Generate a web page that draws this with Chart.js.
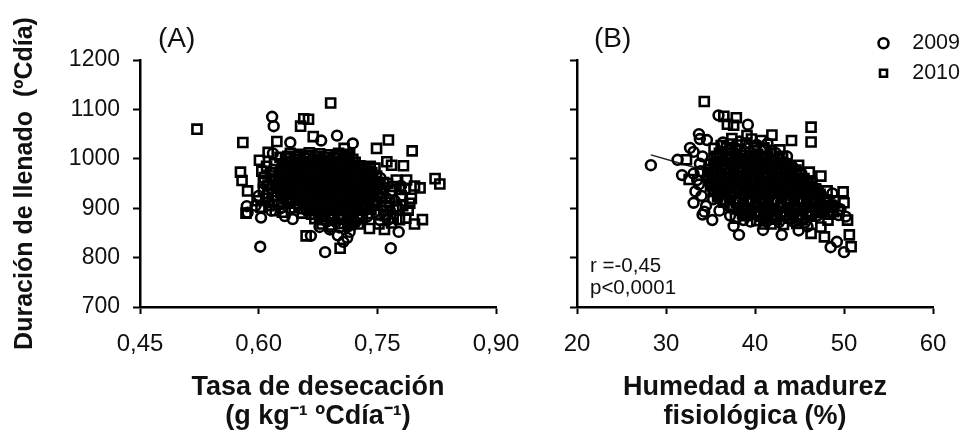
<!DOCTYPE html>
<html>
<head>
<meta charset="utf-8">
<script src="https://cdn.jsdelivr.net/npm/chart.js@4"></script>
<style>
  html, body { margin: 0; padding: 0; background: #fff; }
  #page { position: relative; width: 967px; height: 431px; overflow: hidden; font-family: "Liberation Sans", Arial, sans-serif; color: #111; }
  #wrapA { position: absolute; left: 0; top: 0; width: 520px; height: 431px; }
  #wrapB { position: absolute; left: 520px; top: 0; width: 447px; height: 431px; }
  .note { position: absolute; white-space: nowrap; }
</style>
</head>
<body>
<div id="page">
  <div id="wrapA"><canvas id="chartA"></canvas></div>
  <div id="wrapB"><canvas id="chartB"></canvas></div>
  <div class="note" style="left:158px;top:22px;font-size:28px;">(A)</div>
  <div class="note" style="left:594px;top:22px;font-size:28px;">(B)</div>
  <div class="note" style="left:590px;top:254px;font-size:20.5px;line-height:22px;">r =-0,45<br>p&lt;0,0001</div>
</div>
<script>
// panel A, tasa de desecacion vs duracion de llenado
const a2010 = [
  [.522,1060],[.580,1033],[.691,1113],[.657,1081],[.663,1080],[.653,1066],[.623,1035],[.577,973],[.579,956],[.586,935],
  [.584,890],[.601,997],[.612,1013],[.749,1021],[.764,1038],[.794,1016],[.783,986],[.768,987],[.762,994],[.747,981],
  [.823,960],[.829,949],[.804,941],[.797,945],[.793,920],[.789,896],[.807,877],[.797,868],[.778,877],[.759,857],
  [.740,859],[.660,844],[.703,819],[.708,1021],[.715,1008],[.669,1045],[.758,952],[.774,957],[.787,957],[.774,903],
  [.791,910],[.604,975],[.606,952],[.612,930],[.598,915],[.603,902],[.616,965],[.620,990],[.627,1003],[.754,930],
  [.768,935],[.780,925],[.761,905],[.752,888],[.770,880],[.748,912],
  [.610,985],[.615,972],[.607,962],[.621,958],[.612,947],[.618,940],[.606,938],[.622,945],[.609,920],[.617,915],
  [.625,908],[.613,905],[.621,895],[.630,892],[.757,942],[.763,950],[.771,944],[.778,938],[.785,940],[.756,920],
  [.765,912],[.775,898],[.782,905],[.758,895],[.768,870],[.752,868],[.760,885],[.786,880],
  [.640,1011],[.652,1009],[.664,1012],[.677,1010],[.689,1008],[.701,1011],[.713,1009],
  [.634,1000],[.646,998],[.659,1001],[.671,999],[.683,997],[.696,1000],[.708,998],[.719,999],
  [.630,989],[.643,987],[.655,990],[.667,988],[.680,986],[.692,989],[.704,988],[.716,987],[.728,986],[.741,985],
  [.629,978],[.641,976],[.653,977],[.666,979],[.678,975],[.690,978],[.703,977],[.715,976],[.727,978],[.739,975],
  [.626,967],[.638,965],[.651,968],[.663,966],[.675,964],[.688,967],[.700,965],[.712,966],[.724,964],[.737,967],[.749,965],
  [.625,956],[.637,954],[.649,957],[.662,955],[.674,953],[.686,956],[.699,954],[.711,955],[.723,953],[.735,956],[.748,954],
  [.626,945],[.638,943],[.650,946],[.663,944],[.675,942],[.687,945],[.699,943],[.712,944],[.724,942],[.736,945],[.749,943],
  [.628,934],[.640,932],[.652,935],[.665,933],[.677,931],[.689,934],[.701,932],[.714,933],[.726,931],[.738,934],[.750,932],
  [.631,923],[.643,921],[.655,924],[.668,922],[.680,920],[.692,923],[.704,921],[.717,922],[.729,920],[.741,923],
  [.636,912],[.648,910],[.660,913],[.672,911],[.684,909],[.697,912],[.709,910],[.721,911],[.733,909],[.745,912],
  [.645,901],[.657,899],[.669,902],[.681,900],[.693,898],[.706,901],[.718,899],[.730,900],[.742,898],
  [.655,890],[.667,888],[.679,891],[.691,889],[.703,887],[.716,890],[.728,888],[.738,889],
  [.671,879],[.683,877],[.695,880],[.707,878],[.719,876],[.731,879],
  [.680,868],[.692,866],[.704,869],[.716,867],[.726,868],
  // dense core
  [.637,1005],[.650,1004],[.662,1006],[.675,1004],[.687,1003],[.699,1006],[.711,1004],
  [.636,994],[.648,993],[.661,995],[.673,994],[.685,992],[.698,995],[.710,993],[.722,993],
  [.634,983],[.647,982],[.659,984],[.671,983],[.684,981],[.696,984],[.708,982],[.720,982],[.732,981],
  [.632,972],[.645,971],[.657,973],[.669,972],[.682,970],[.694,973],[.706,971],[.718,971],[.730,970],[.743,972],
  [.631,961],[.643,960],[.656,962],[.668,961],[.680,959],[.693,962],[.705,960],[.717,960],[.729,959],[.742,961],
  [.630,950],[.642,949],[.655,951],[.667,950],[.679,948],[.692,951],[.704,949],[.716,949],[.728,948],[.741,950],
  [.632,939],[.644,938],[.657,940],[.669,939],[.681,937],[.694,940],[.706,938],[.718,938],[.730,937],[.743,939],
  [.635,928],[.647,927],[.660,929],[.672,928],[.684,926],[.697,929],[.709,927],[.721,927],[.733,926],[.744,928],
  [.641,917],[.653,916],[.666,918],[.678,917],[.690,915],[.703,918],[.715,916],[.727,916],[.739,915],
  [.651,906],[.663,905],[.676,907],[.688,906],[.700,904],[.713,907],[.725,905],[.736,905],
  [.664,895],[.677,894],[.689,896],[.701,895],[.713,893],[.726,896],
  [.677,884],[.689,883],[.701,885],[.713,884],[.725,882]
];
const a2009 = [
  [.617,1085],[.619,1066],[.699,1047],[.719,1031],[.679,1037],[.640,1033],[.618,1011],[.585,904],[.586,891],[.603,881],
  [.616,895],[.633,884],[.643,878],[.602,822],[.666,844],[.684,811],[.767,819],[.777,852],[.707,832],[.715,852],
  [.690,857],[.677,862],[.764,877],[.753,876],[.637,910],[.612,912],[.600,925],[.596,905],[.622,925],[.628,900],
  [.610,945],[.618,978],[.712,840],[.700,845],[.766,895],[.780,945],[.772,915],[.762,920],
  [.646,1005],[.658,1004],[.671,1006],[.683,1003],[.695,1005],[.707,1004],
  [.640,994],[.652,993],[.665,995],[.677,992],[.689,994],[.702,993],[.714,995],
  [.636,983],[.649,982],[.661,984],[.673,981],[.686,983],[.698,982],[.710,984],[.722,981],[.735,983],
  [.633,972],[.645,971],[.658,973],[.670,970],[.682,972],[.695,971],[.707,973],[.719,970],[.731,972],[.744,971],
  [.631,961],[.643,960],[.656,962],[.668,959],[.680,961],[.693,960],[.705,962],[.717,959],[.729,961],[.742,960],[.754,961],
  [.630,950],[.642,949],[.655,951],[.667,948],[.679,950],[.692,949],[.704,951],[.716,948],[.728,950],[.741,949],[.753,950],
  [.632,939],[.644,938],[.657,940],[.669,937],[.681,939],[.694,938],[.706,940],[.718,937],[.730,939],[.743,938],[.755,939],
  [.634,928],[.646,927],[.659,929],[.671,926],[.683,928],[.696,927],[.708,929],[.720,926],[.732,928],[.745,927],
  [.638,917],[.650,916],[.663,918],[.675,915],[.687,917],[.700,916],[.712,918],[.724,915],[.736,917],[.748,916],
  [.650,906],[.662,905],[.675,907],[.687,904],[.699,906],[.712,905],[.724,907],[.736,904],[.746,906],
  [.661,895],[.673,894],[.686,896],[.698,893],[.710,895],[.723,894],[.735,896],
  [.677,884],[.689,883],[.702,885],[.714,882],[.726,884],[.737,883],
  [.686,873],[.698,872],[.711,874],[.722,871],
  [.690,862],[.702,861],[.713,863]
];

// panel B, humedad a madurez fisiologica vs duracion de llenado
const b2010 = [
  [34.3,1116],[36.5,1086],[37.9,1083],[36.9,1070],[37.6,1068],[46.3,1064],[46.3,1034],[44.1,1037],[41.9,1048],[40.7,1037],
  [39.1,1047],[37.4,1041],[32.3,998],[32.6,958],[43.1,1005],[44.9,987],[46.1,973],[47.4,965],[46.3,943],[48.1,935],
  [49.9,933],[50.0,911],[50.4,876],[50.6,846],[50.8,822],[47.8,842],[46.3,849],[47.4,862],[45.3,877],[48.2,876],
  [35.4,1021],[36.2,1027],[41.8,1017],[46.9,930],[45.5,960],[48.9,915],[47.6,900],[49.4,895],
  [36.8,1022],[38.0,1028],[39.0,1032],[38.4,1018],[39.9,1024],[41.0,1022],[40.0,1016],[42.8,1018],[37.4,1030],[39.6,1040],[37.2,1018],
  [37.8,880],[39.0,885],[40.2,875],[41.0,868],
  [36.0,1011],[37.4,1010],[38.9,1012],[40.3,1009],[41.7,1011],
  [35.4,1000],[36.9,999],[38.3,1001],[39.7,998],[41.2,1000],[42.6,999],
  [35.0,989],[36.4,988],[37.9,990],[39.3,987],[40.7,989],[42.2,988],[43.6,990],
  [34.8,978],[36.2,977],[37.7,979],[39.1,976],[40.5,978],[42.0,977],[43.4,979],[44.6,977],
  [34.7,967],[36.1,966],[37.6,968],[39.0,965],[40.4,967],[41.9,966],[43.3,968],[44.7,965],
  [34.8,956],[36.2,955],[37.7,957],[39.1,954],[40.5,956],[42.0,955],[43.4,957],[44.8,954],[45.9,955],
  [35.0,945],[36.4,944],[37.9,946],[39.3,943],[40.7,945],[42.2,944],[43.6,946],[45.0,943],[46.3,945],
  [35.3,934],[36.7,933],[38.2,935],[39.6,932],[41.0,934],[42.5,933],[43.9,935],[45.3,932],[46.7,934],
  [35.8,923],[37.2,922],[38.7,924],[40.1,921],[41.5,923],[43.0,922],[44.4,924],[45.8,921],[47.2,923],
  [36.5,912],[37.9,911],[39.4,913],[40.8,910],[42.2,912],[43.7,911],[45.1,913],[46.5,910],[47.9,912],
  [37.5,901],[38.9,900],[40.4,902],[41.8,899],[43.2,901],[44.7,900],[46.1,902],[47.5,899],[48.8,901],
  [38.6,890],[40.0,889],[41.5,891],[42.9,888],[44.3,890],[45.8,889],[47.2,891],[48.4,888],
  [41.0,879],[42.4,878],[43.9,880],[45.3,877],
  [41.8,868],[43.2,867],[44.7,869],
  // dense core
  [35.7,1005],[37.1,1004],[38.6,1006],[40.0,1003],[41.4,1005],
  [35.7,994],[37.2,993],[38.6,995],[40.0,992],[41.5,994],[42.9,993],
  [35.4,983],[36.8,982],[38.3,984],[39.7,981],[41.1,983],[42.6,982],[44.0,984],
  [35.2,972],[36.6,971],[38.1,973],[39.5,970],[40.9,972],[42.4,971],[43.8,973],[45.0,971],
  [35.1,961],[36.5,960],[38.0,962],[39.4,959],[40.8,961],[42.3,960],[43.7,962],[45.0,959],
  [35.2,950],[36.6,949],[38.1,951],[39.5,948],[40.9,950],[42.4,949],[43.8,951],[45.2,948],[46.4,950],
  [35.4,939],[36.8,938],[38.3,940],[39.7,937],[41.1,939],[42.6,938],[44.0,940],[45.4,937],[46.8,939],
  [35.9,928],[37.3,927],[38.8,929],[40.2,926],[41.6,928],[43.1,927],[44.5,929],[45.9,926],[47.3,928],
  [36.4,917],[37.8,916],[39.3,918],[40.7,915],[42.1,917],[43.6,916],[45.0,918],[46.4,915],[47.8,917],
  [37.2,906],[38.6,905],[40.1,907],[41.5,904],[42.9,906],[44.4,905],[45.8,907],[47.2,904],[48.5,906],
  [38.9,895],[40.3,894],[41.8,896],[43.2,893],[44.6,895],[46.1,894],[47.5,896],[48.8,893],
  [40.6,884],[42.0,883],[43.5,885],[44.9,882],[46.3,884]
];
const b2009 = [
  [28.3,987],[31.3,998],[35.9,1088],[39.2,1069],[33.7,1050],[33.8,1040],[34.6,1038],[32.7,1022],[33.1,1014],[34.1,1005],
  [41.4,1031],[31.8,967],[33.1,970],[33.5,957],[33.3,934],[33.1,911],[34.3,893],[34.1,887],[35.2,876],[37.6,864],
  [38.2,846],[40.9,856],[43.0,846],[44.9,855],[45.9,863],[48.5,821],[49.2,832],[50.0,811],[50.2,883],[49.4,886],
  [38.7,876],[39.5,873],[48.7,930],[33.8,990],[33.9,975],[33.7,948],[34.0,925],[34.5,905],[35.3,918],[36.0,895],
  [37.2,885],[48.9,905],[49.6,898],[47.0,885],[36.1,1005],
  [36.4,1033],[38.3,1035],[40.2,1028],[42.3,1012],[43.6,1005],[37.8,1022],
  [36.7,1005],[38.1,1004],[39.6,1006],[41.0,1003],
  [36.1,994],[37.6,993],[39.0,995],[40.4,992],[41.9,994],[43.3,993],
  [35.7,983],[37.2,982],[38.6,984],[40.0,981],[41.5,983],[42.9,982],[44.2,984],
  [35.5,972],[36.9,971],[38.4,973],[39.8,970],[41.2,972],[42.7,971],[44.1,973],[45.2,971],
  [35.4,961],[36.8,960],[38.3,962],[39.7,959],[41.1,961],[42.6,960],[44.0,962],[45.2,959],
  [35.5,950],[36.9,949],[38.4,951],[39.8,948],[41.2,950],[42.7,949],[44.1,951],[45.5,948],
  [35.7,939],[37.1,938],[38.6,940],[40.0,937],[41.4,939],[42.9,938],[44.3,940],[45.7,937],[47.0,939],
  [36.0,928],[37.4,927],[38.9,929],[40.3,926],[41.7,928],[43.2,927],[44.6,929],[46.0,926],[47.4,928],
  [36.6,917],[38.0,916],[39.5,918],[40.9,915],[42.3,917],[43.8,916],[45.2,918],[46.6,915],[48.0,917],
  [37.3,906],[38.7,905],[40.2,907],[41.6,904],[43.0,906],[44.5,905],[45.9,907],[47.3,904],[48.6,906],
  [38.2,895],[39.6,894],[41.1,896],[42.5,893],[43.9,895],[45.4,894],[46.8,896],[48.2,893],
  [40.4,884],[41.8,883],[43.3,885],[44.7,882],[46.0,884],
  [41.3,873],[42.7,872],[44.2,874],[45.6,871]
];
const bTrend = [[28.3,1008],[31.2,993],[45,920]];

const yTicksMin = 700, yTicksMax = 1200, yStep = 100;
const legendNames = ["2009", "2010"];
const fontName = '"Liberation Sans", Arial, sans-serif';

function toPts(list) {
  return list.map(function (p) { return { x: p[0], y: p[1] }; });
}

function yearSet(label, list, style, r) {
  return {
    label: label,
    data: toPts(list),
    showLine: false,
    pointStyle: style,
    pointRadius: r,
    pointBorderWidth: 2.6,
    pointBorderColor: "#000",
    pointBackgroundColor: "rgba(0,0,0,0)",
    borderWidth: 2.6,
    borderColor: "#000",
    backgroundColor: "rgba(0,0,0,0)",
  };
}

// moves the legend out of the plot, top right like the original
const legendMover = {
  id: "legendMover",
  beforeDraw: function (chart) {
    var lg = chart.legend;
    if (!lg || !lg.options.display) return;
    lg.left = 351;
    lg.right = 440;
    lg.top = 24;
    lg.bottom = 300;
  },
};

function scatter(id, datasets, xOpts, yOpts, left, right, showLegend) {
  return new Chart(document.getElementById(id), {
    type: "scatter",
    data: { datasets: datasets },
    plugins: [legendMover],
    options: {
      responsive: true,
      maintainAspectRatio: false,
      animation: false,
      layout: { padding: { top: 60, right: right, left: 0, bottom: 0 } },
      plugins: {
        tooltip: { enabled: false },
        legend: {
          display: showLegend,
          position: "chartArea",
          align: "start",
          labels: {
            usePointStyle: true,
            boxWidth: 8,
            boxHeight: 7,
            padding: 8.5,
            color: "#111",
            textAlign: "right",
            font: { family: fontName, size: 21.5 },
            filter: function (item) { return legendNames.indexOf(item.text) >= 0; },
          },
        },
      },
      scales: {
        x: Object.assign({
          type: "linear",
          afterFit: function (s) { s.height = 124; s.paddingLeft = 0; s.paddingRight = 0; },
          border: { color: "#000", width: 2.5 },
          grid: { drawOnChartArea: false, tickLength: 7, tickColor: "#000", tickWidth: 2 },
        }, xOpts),
        y: Object.assign({
          type: "linear",
          min: yTicksMin,
          max: yTicksMax,
          afterFit: function (s) { s.width = left; s.paddingTop = 0; s.paddingBottom = 0; },
          border: { color: "#000", width: 2.5 },
          grid: { drawOnChartArea: false, tickLength: 7, tickColor: "#000", tickWidth: 2 },
        }, yOpts),
      },
    },
  });
}

function xTitle(lines) {
  return {
    display: true,
    text: lines,
    color: "#111",
    font: { family: fontName, size: 27, weight: "bold", lineHeight: 1.08 },
    padding: { top: 0, bottom: 0 },
  };
}

const xTickFont = { family: fontName, size: 24 };
const yTickFont = { family: fontName, size: 23 };

scatter("chartA", [yearSet("2010", a2010, "rect", 6.4), yearSet("2009", a2009, "circle", 4.9)], {
  min: 0.45,
  max: 0.9,
  ticks: {
    stepSize: 0.15,
    autoSkip: false,
    maxRotation: 0,
    padding: 16,
    color: "#111",
    font: xTickFont,
    callback: function (v) { return v.toFixed(2).replace(".", ","); },
  },
  title: xTitle(["Tasa de desecación", "(g kg⁻¹ ºCdía⁻¹)"]),
}, {
  ticks: { stepSize: yStep, padding: 13, color: "#111", font: yTickFont, callback: function (v) { return String(v); } },
  title: {
    display: true,
    text: "Duración de llenado  (ºCdía)",
    color: "#111",
    font: { family: fontName, size: 25, weight: "bold" },
    padding: { top: 10, bottom: 0 },
  },
}, 140, 24, false);

scatter("chartB", [
  yearSet("2009", b2009, "circle", 4.9),
  yearSet("2010", b2010, "rect", 6.4),
  {
    label: "ajuste",
    data: toPts(bTrend),
    showLine: true,
    borderColor: "#222",
    borderWidth: 1.5,
    pointRadius: 0,
  },
], {
  min: 20,
  max: 60,
  ticks: { stepSize: 10, autoSkip: false, maxRotation: 0, padding: 16, color: "#111", font: xTickFont },
  title: xTitle(["Humedad a madurez", "fisiológica (%)"]),
}, {
  ticks: { stepSize: yStep, display: false, callback: function (v) { return String(v); } },
}, 57, 447 - 413, true);
</script>
</body>
</html>
